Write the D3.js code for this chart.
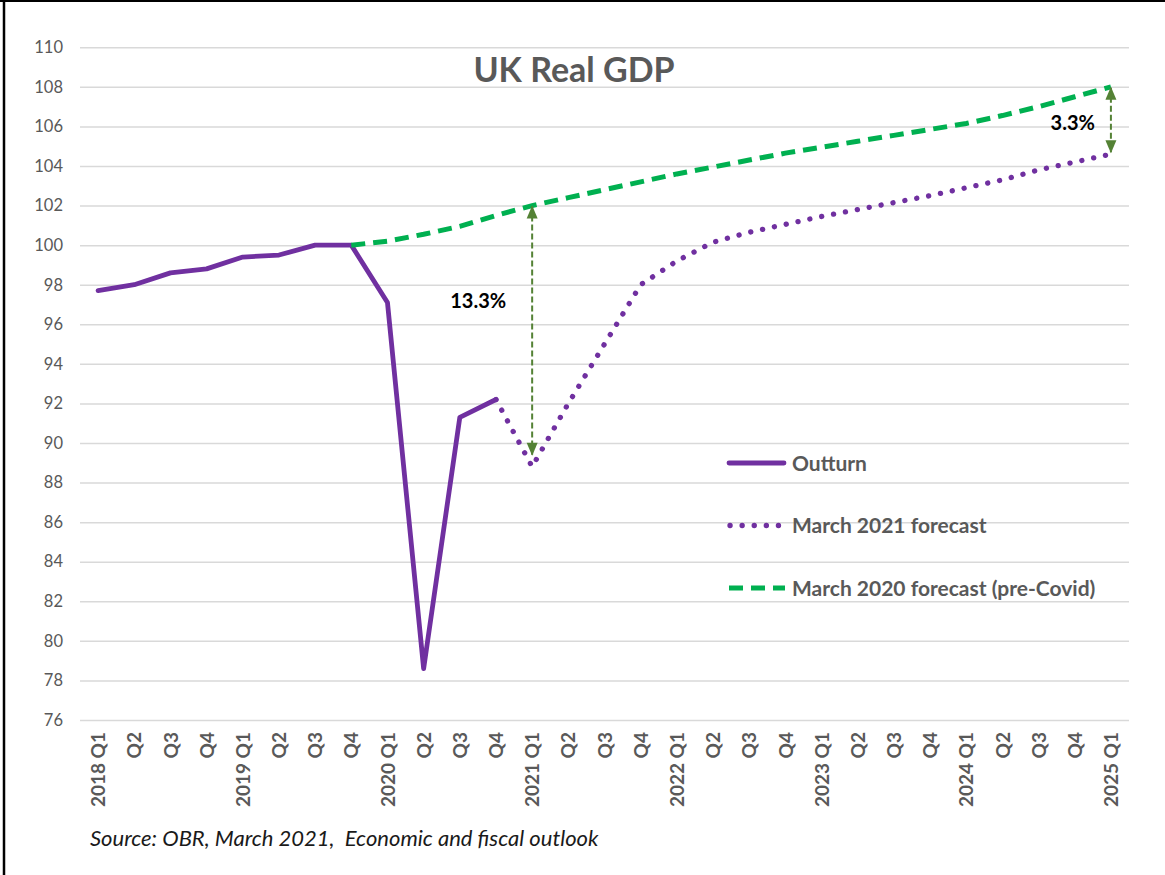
<!DOCTYPE html>
<html>
<head>
<meta charset="utf-8">
<script src="https://cdn.jsdelivr.net/npm/d3@7"></script>
<style>
  html, body { margin: 0; padding: 0; background: #fff; }
  svg { display: block; font-family: Lato, "Open Sans", sans-serif; }
</style>
</head>
<body>
<svg id="chart" width="1165" height="875"></svg>
<script>
// Quarters on the category axis
const quarters = [
  "2018 Q1","2018 Q2","2018 Q3","2018 Q4",
  "2019 Q1","2019 Q2","2019 Q3","2019 Q4",
  "2020 Q1","2020 Q2","2020 Q3","2020 Q4",
  "2021 Q1","2021 Q2","2021 Q3","2021 Q4",
  "2022 Q1","2022 Q2","2022 Q3","2022 Q4",
  "2023 Q1","2023 Q2","2023 Q3","2023 Q4",
  "2024 Q1","2024 Q2","2024 Q3","2024 Q4",
  "2025 Q1"
];
const tickLabels = [
  "2018 Q1","Q2","Q3","Q4",
  "2019 Q1","Q2","Q3","Q4",
  "2020 Q1","Q2","Q3","Q4",
  "2021 Q1","Q2","Q3","Q4",
  "2022 Q1","Q2","Q3","Q4",
  "2023 Q1","Q2","Q3","Q4",
  "2024 Q1","Q2","Q3","Q4",
  "2025 Q1"
];

// Real GDP index, 2019 Q4 = 100
const outturn = [
  97.7, 98.0, 98.6, 98.8,
  99.4, 99.5, 100.0, 100.0,
  97.1, 78.6, 91.3, 92.2,
  null, null, null, null,
  null, null, null, null,
  null, null, null, null,
  null, null, null, null,
  null
];
const forecastMar2021 = [
  null, null, null, null,
  null, null, null, null,
  null, null, null, 92.2,
  88.8, 92.0, 95.0, 98.0,
  99.2, 100.15, 100.65, 101.05,
  101.45, 101.8, 102.15, 102.5,
  102.9, 103.3, 103.8, 104.2,
  104.6
];
const forecastMar2020 = [
  null, null, null, null,
  null, null, null, 100.0,
  100.2, 100.55, 100.95, 101.5,
  102.0, 102.4, 102.8, 103.2,
  103.6, 103.95, 104.3, 104.65,
  104.95, 105.25, 105.55, 105.85,
  106.15, 106.55, 107.0, 107.5,
  108.0
];

const yTicks = [76, 78, 80, 82, 84, 86, 88, 90, 92, 94, 96, 98, 100, 102, 104, 106, 108, 110];

// Gap annotations between the two forecasts
const gapQuarters = ["2021 Q1", "2025 Q1"];
const gapTop = [102.0, 108.0];
const gapBottom = [89.35, 104.65];
const gapLabels = ["13.3%", "3.3%"];

const seriesNames = ["Outturn", "March 2021 forecast", "March 2020 forecast (pre-Covid)"];

const svg = d3.select("#chart");
const W = 1165, H = 875;
const plot = { left: 80, right: 1129, top: 47.3, bottom: 720 };

svg.append("rect").attr("width", W).attr("height", H).attr("fill", "#fff");
// frame lines at the left and top edges
svg.append("line").attr("x1", 4).attr("x2", 4).attr("y1", 0).attr("y2", H)
  .attr("stroke", "#000").attr("stroke-width", 2.5);
svg.append("line").attr("x1", 0).attr("x2", W).attr("y1", 1).attr("y2", 1)
  .attr("stroke", "#000").attr("stroke-width", 2);

const x = d3.scalePoint().domain(quarters).range([plot.left, plot.right]).padding(0.5);
const y = d3.scaleLinear().domain([76, 110]).range([plot.bottom, plot.top]);

// Horizontal gridlines + value labels
const yAxis = svg.append("g")
  .attr("transform", `translate(${plot.left},0)`)
  .call(d3.axisLeft(y).tickValues(yTicks).tickSize(-(plot.right - plot.left)).tickPadding(17))
yAxis.select(".domain").remove();
yAxis.selectAll(".tick line").attr("stroke", "#d9d9d9").attr("stroke-width", 1.5);
yAxis.selectAll(".tick text")
  .attr("fill", "#595959").attr("font-size", "16.5px")
  .attr("font-family", "Lato, sans-serif");

// Category labels, rotated
const labelOf = new Map(quarters.map((q, i) => [q, tickLabels[i]]));
const xAxis = svg.append("g")
  .attr("transform", `translate(0,${plot.bottom})`)
  .call(d3.axisBottom(x).tickSize(0).tickFormat(q => labelOf.get(q)));
xAxis.select(".domain").remove();
xAxis.selectAll(".tick text")
  .attr("transform", "rotate(-90)")
  .attr("x", -12).attr("y", 0).attr("dy", "0.35em")
  .attr("text-anchor", "end")
  .attr("fill", "#595959").attr("font-size", "19px").attr("font-weight", "bold")
  .attr("font-family", "Lato, sans-serif");

// Title
svg.append("text").attr("x", 574).attr("y", 82).attr("text-anchor", "middle")
  .attr("font-size", "34px").attr("font-weight", "bold").attr("fill", "#595959")
  .text("UK Real GDP");

const line = d3.line()
  .defined(d => d != null)
  .x((d, i) => x(quarters[i]))
  .y(d => y(d));

const purple = "#7030a0", green = "#00b050", olive = "#548235";

svg.append("path").datum(outturn).attr("d", line)
  .attr("fill", "none").attr("stroke", purple).attr("stroke-width", 4.8)
  .attr("stroke-linejoin", "round").attr("stroke-linecap", "round");

svg.append("path").datum(forecastMar2021).attr("d", line)
  .attr("fill", "none").attr("stroke", purple).attr("stroke-width", 5.3)
  .attr("stroke-dasharray", "0.1,12").attr("stroke-linecap", "round");

svg.append("path").datum(forecastMar2020).attr("d", line)
  .attr("fill", "none").attr("stroke", green).attr("stroke-width", 5)
  .attr("stroke-dasharray", "14,8");

// Double-headed gap arrows
gapQuarters.forEach((q, i) => {
  const gx = x(q);
  const top = y(gapTop[i]), bot = y(gapBottom[i]);
  svg.append("line")
    .attr("x1", gx).attr("x2", gx)
    .attr("y1", top + 1).attr("y2", bot - 1)
    .attr("stroke", olive).attr("stroke-width", 2)
    .attr("stroke-dasharray", "6,3");
  svg.append("path")
    .attr("d", `M${gx},${top} L${gx - 5.5},${top + 13} L${gx + 5.5},${top + 13} Z`)
    .attr("fill", olive);
  svg.append("path")
    .attr("d", `M${gx},${bot} L${gx - 5.5},${bot - 13} L${gx + 5.5},${bot - 13} Z`)
    .attr("fill", olive);
});

svg.append("text").attr("x", x(gapQuarters[0]) - 26).attr("y", y(96.9) + 2)
  .attr("text-anchor", "end").attr("font-size", "20px").attr("font-weight", "bold")
  .attr("fill", "#000").text(gapLabels[0]);
svg.append("text").attr("x", x(gapQuarters[1]) - 16).attr("y", y(105.8))
  .attr("text-anchor", "end").attr("font-size", "20px").attr("font-weight", "bold")
  .attr("fill", "#000").text(gapLabels[1]);

// Legend
const legend = svg.append("g").attr("transform", "translate(728,463)");
const rowGap = 62.5;
const swatch = [
  { stroke: purple, width: 4.8, dash: null, cap: "round" },
  { stroke: purple, width: 5.3, dash: "0.1,12", cap: "round" },
  { stroke: green, width: 5, dash: "14,8", cap: "butt" }
];
seriesNames.forEach((name, i) => {
  const g = legend.append("g").attr("transform", `translate(0,${i * rowGap})`);
  const s = swatch[i];
  g.append("line").attr("x1", i === 1 ? 2 : 1).attr("x2", i === 2 ? 57 : 56)
    .attr("y1", 0).attr("y2", 0)
    .attr("stroke", s.stroke).attr("stroke-width", s.width)
    .attr("stroke-dasharray", s.dash).attr("stroke-linecap", s.cap);
  g.append("text").attr("x", 64).attr("y", 7.5)
    .attr("font-size", "21px").attr("font-weight", "bold").attr("fill", "#595959")
    .text(name);
});

// Source note
svg.append("text").attr("x", 90).attr("y", 846)
  .attr("font-size", "22px").attr("font-style", "italic").attr("fill", "#1a1a1a")
  .style("white-space", "pre")
  .text("Source: OBR, March 2021,  Economic and fiscal outlook");
</script>
</body>
</html>
